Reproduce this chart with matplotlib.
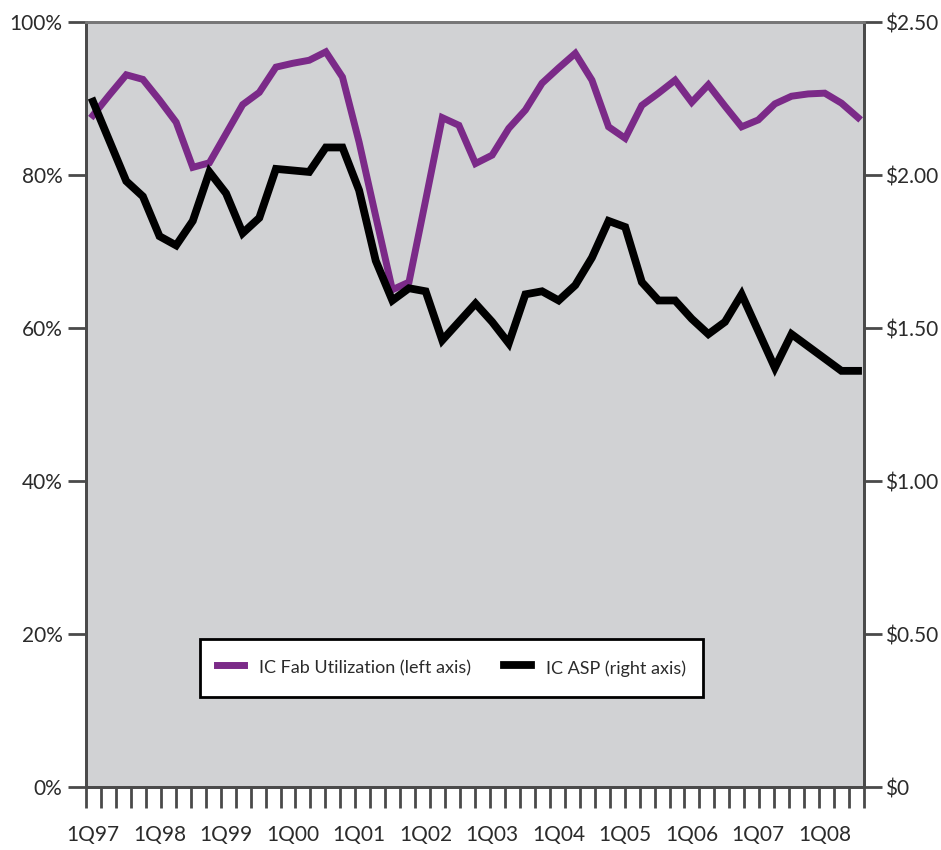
import numpy as np
import matplotlib
matplotlib.use("Agg")
from matplotlib import pyplot as plt

plt.rcParams['font.family'] = ['Lato', 'DejaVu Sans']

# quarterly data, 1Q97 .. 3Q08
years = ["97", "98", "99", "00", "01", "02", "03", "04", "05", "06", "07", "08"]
year_labels = ["1Q" + y for y in years]

fab_util = [87.8, 90.5, 93.1, 92.5, 89.8, 86.9, 81.0, 81.6, 85.4, 89.2, 90.8, 94.1,
            94.6, 95.0, 96.1, 92.8, 84.3, 74.6, 65.0, 66.0, 76.7, 87.5, 86.5, 81.5,
            82.6, 86.1, 88.5, 92.0, 94.0, 95.9, 92.4, 86.3, 84.8, 89.1, 90.7, 92.4,
            89.5, 91.8, 89.0, 86.3, 87.2, 89.3, 90.3, 90.6, 90.7, 89.4, 87.5]

ic_asp = [2.24, 2.11, 1.98, 1.93, 1.80, 1.77, 1.85, 2.01, 1.94, 1.81, 1.86, 2.02,
          2.015, 2.01, 2.09, 2.09, 1.95, 1.72, 1.59, 1.63, 1.62, 1.46, 1.52, 1.58,
          1.52, 1.45, 1.61, 1.62, 1.59, 1.64, 1.73, 1.85, 1.83, 1.65, 1.59, 1.59,
          1.53, 1.48, 1.52, 1.61, 1.49, 1.37, 1.48, 1.44, 1.40, 1.36, 1.36]

left_ticks = [0, 20, 40, 60, 80, 100]
right_ticks = [0, 0.5, 1.0, 1.5, 2.0, 2.5]
right_labels = ["$0", "$0.50", "$1.00", "$1.50", "$2.00", "$2.50"]

PURPLE = "#7b2a88"
AXIS = "#4a4a4a"
TEXT = "#2b2b2b"

x = np.arange(len(fab_util))

fig = plt.figure(figsize=(9.41, 8.5), dpi=100)
ax = fig.add_axes([0.0914, 0.0741, 0.8268, 0.9000])
ax.set_facecolor("#d1d2d4")
ax2 = ax.twinx()

ax.plot(x, fab_util, color=PURPLE, lw=5.0, solid_joinstyle="miter",
        label="IC Fab Utilization (left axis)")
ax2.plot(x, ic_asp, color="black", lw=5.6, solid_joinstyle="miter",
         label="IC ASP (right axis)")

xlim = (-0.42, 46.36)
ax.set_xlim(*xlim)
ax.set_ylim(0, 100)
ax2.set_ylim(0, 2.5)

# year labels (no marks) + evenly spaced tick marks
ax.set_xticks(np.arange(0, len(fab_util), 4))
ax.set_xticklabels(year_labels)
ax.tick_params(axis="x", which="major", length=0, pad=27, labelsize=15, labelcolor=TEXT)
ax.set_xticks(np.linspace(xlim[0], xlim[1], 53), minor=True)
ax.tick_params(axis="x", which="minor", length=15, width=2, color=AXIS)

ax.set_yticks(left_ticks)
ax.set_yticklabels([f"{v}%" for v in left_ticks])
ax.tick_params(axis="y", length=13, width=2, color=AXIS, pad=4, labelsize=15,
               labelcolor=TEXT)

ax2.set_yticks(right_ticks)
ax2.set_yticklabels([r"\$" + s[1:] for s in right_labels])
ax2.tick_params(axis="y", length=13, width=2, color=AXIS, pad=2, labelsize=15,
                labelcolor=TEXT)

for a in (ax, ax2):
    for side in ["left", "right", "bottom", "top"]:
        a.spines[side].set_color(AXIS)
        a.spines[side].set_linewidth(2)
    a.spines["top"].set_color("#777777")

h1, l1 = ax.get_legend_handles_labels()
h2, l2 = ax2.get_legend_handles_labels()
leg = ax2.legend(h1 + h2, l1 + l2, loc="lower left",
                 bbox_to_anchor=(0.1465, 0.118, 0.6465, 0.081), mode="expand",
                 borderaxespad=0, ncol=2, fontsize=13, frameon=True, fancybox=False,
                 handlelength=1.5, handleheight=1.6, handletextpad=0.8,
                 columnspacing=2.0, borderpad=0.95, edgecolor="black", framealpha=1)
leg.get_frame().set_linewidth(2)
for t in leg.get_texts():
    t.set_color(TEXT)

plt.savefig("out.png", dpi=100)
